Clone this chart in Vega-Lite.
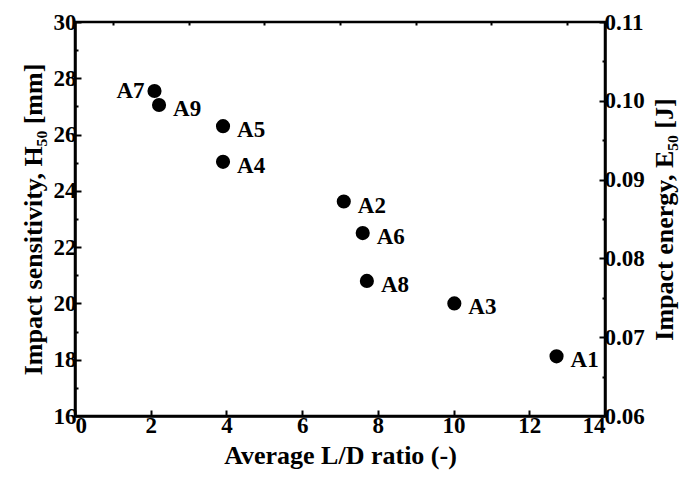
{
  "$schema": "https://vega.github.io/schema/vega-lite/v6.json",
  "width": 530,
  "height": 394,
  "autosize": "none",
  "padding": {"left": 75, "top": 22, "right": 84, "bottom": 65},
  "background": "white",
  "config": {
    "view": {"stroke": "black", "strokeWidth": 2.5},
    "font": "Liberation Serif",
    "axis": {
      "labelFont": "Liberation Serif",
      "labelFontWeight": "bold",
      "labelFontSize": 23,
      "labelColor": "black",
      "titleFont": "Liberation Serif",
      "titleFontWeight": "bold",
      "titleFontSize": 26,
      "titleColor": "black",
      "domainColor": "black",
      "domainWidth": 2.5,
      "tickColor": "black",
      "tickWidth": 2,
      "tickSize": -6,
      "grid": false
    }
  },
  "data": {
    "values": [
      {"s": "A7", "ld": 2.1, "h": 27.55, "e": 0.1034},
      {"s": "A9", "ld": 2.22, "h": 27.05, "e": 0.1016},
      {"s": "A5", "ld": 3.91, "h": 26.3, "e": 0.0989},
      {"s": "A4", "ld": 3.91, "h": 25.03, "e": 0.0944},
      {"s": "A2", "ld": 7.1, "h": 23.62, "e": 0.0894},
      {"s": "A6", "ld": 7.6, "h": 22.5, "e": 0.0854},
      {"s": "A8", "ld": 7.71, "h": 20.8, "e": 0.0793},
      {"s": "A3", "ld": 10.02, "h": 20.0, "e": 0.0764},
      {"s": "A1", "ld": 12.72, "h": 18.12, "e": 0.0676}
    ]
  },
  "encoding": {
    "x": {
      "field": "ld", "type": "quantitative",
      "scale": {"domain": [0, 14], "nice": false}
    }
  },
  "layer": [
    {
      "encoding": {
        "x": {"field": "ld", "type": "quantitative",
          "axis": {"values": [0, 2, 4, 6, 8, 10, 12, 14], "title": "Average L/D ratio (-)", "labelPadding": 4, "titlePadding": 5}}
      },
      "layer": [
        {
          "mark": {"type": "point", "filled": true, "color": "black", "size": 200, "opacity": 1},
          "encoding": {
            "y": {
              "field": "h", "type": "quantitative",
              "scale": {"domain": [16, 30], "nice": false, "zero": false},
              "axis": {"values": [16, 18, 20, 22, 24, 26, 28, 30], "title": "Impact sensitivity, H₅₀ [mm]", "labelPadding": 5, "titlePadding": 7}
            }
          }
        },
        {
          "transform": [{"filter": "datum.s !== 'A7'"}],
          "mark": {"type": "text", "align": "left", "baseline": "middle", "dx": 14, "dy": 4, "font": "Liberation Serif", "fontWeight": "bold", "fontSize": 23, "color": "black"},
          "encoding": {
            "y": {"field": "h", "type": "quantitative"},
            "text": {"field": "s"}
          }
        },
        {
          "transform": [{"filter": "datum.s === 'A7'"}],
          "mark": {"type": "text", "align": "right", "baseline": "middle", "dx": -10, "dy": 0, "font": "Liberation Serif", "fontWeight": "bold", "fontSize": 23, "color": "black"},
          "encoding": {
            "y": {"field": "h", "type": "quantitative"},
            "text": {"field": "s"}
          }
        }
      ]
    },
    {
      "mark": {"type": "point", "opacity": 0},
      "encoding": {
        "x": {"field": "ld", "type": "quantitative",
          "axis": {"values": [1, 3, 5, 7, 9, 11, 13], "labels": false, "domain": false, "title": null, "tickSize": -3}},
        "y": {
          "field": "e", "type": "quantitative",
          "scale": {"domain": [0.06, 0.11], "nice": false, "zero": false},
          "axis": {"orient": "right", "values": [0.06, 0.07, 0.08, 0.09, 0.10, 0.11], "format": ".2f", "title": "Impact energy, E₅₀ [J]", "labelPadding": 5, "titlePadding": 7, "titleAngle": 270, "titleBaseline": "top"}
        }
      }
    },
    {
      "mark": {"type": "point", "opacity": 0},
      "encoding": {
        "x": {"field": "ld", "type": "quantitative", "axis": null},
        "y": {
          "field": "h", "type": "quantitative",
          "scale": {"domain": [16, 30], "nice": false, "zero": false},
          "axis": {"orient": "left", "values": [17, 19, 21, 23, 25, 27, 29], "labels": false, "domain": false, "title": null, "tickSize": -3}
        }
      }
    },
    {
      "mark": {"type": "point", "opacity": 0},
      "encoding": {
        "x": {"field": "ld", "type": "quantitative", "axis": null},
        "y": {
          "field": "e", "type": "quantitative",
          "scale": {"domain": [0.06, 0.11], "nice": false, "zero": false},
          "axis": {"orient": "right", "values": [0.065, 0.075, 0.085, 0.095, 0.105], "labels": false, "domain": false, "title": null, "tickSize": -3}
        }
      }
    }
  ],
  "resolve": {"scale": {"y": "independent"}, "axis": {"y": "independent", "x": "independent"}}
}
